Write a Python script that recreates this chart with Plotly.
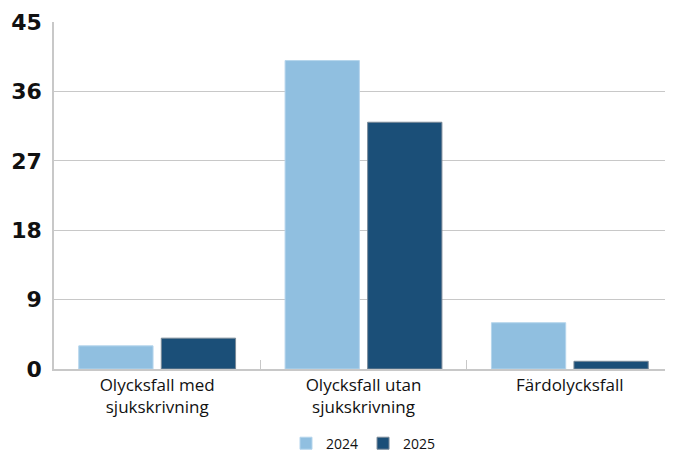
import plotly.graph_objects as go

categories = ["Olycksfall med<br>sjukskrivning", "Olycksfall utan<br>sjukskrivning", "Färdolycksfall"]
values_2024 = [3, 40, 6]
values_2025 = [4, 32, 1]
y_ticks = [0, 9, 18, 27, 36, 45]

fig = go.Figure()
fig.add_trace(go.Bar(name="2024", x=categories, y=values_2024,
                     marker=dict(color="#90BFE0", line=dict(color="#B5D5EC", width=1))))
fig.add_trace(go.Bar(name="2025", x=categories, y=values_2025,
                     marker=dict(color="#1B4F78", line=dict(color="#7A8A98", width=1))))

fig.update_layout(
    width=665, height=447,
    margin=dict(l=46, r=0, t=14, b=86, autoexpand=False),
    plot_bgcolor="white", paper_bgcolor="white",
    barmode="group", bargap=0.2, bargroupgap=0.1,
    font=dict(family="Open Sans, sans-serif", color="#111111"),
    showlegend=True,
    legend=dict(orientation="h", x=0.5, xanchor="center", y=-0.215, yanchor="middle",
                font=dict(size=14), itemwidth=30),
)
fig.update_yaxes(range=[0, 45], tickvals=y_ticks, showgrid=True, gridcolor="#C8C8C8", gridwidth=1,
                 showline=True, linecolor="#C8C8C8", linewidth=1.5, zeroline=False,
                 tickfont=dict(size=22, family="DejaVu Sans", weight="bold", color="#111111"),
                 ticks="", ticklabelstandoff=6, automargin=False, fixedrange=True)
fig.update_xaxes(showline=True, linecolor="#C8C8C8", linewidth=1.5,
                 ticks="inside", ticklen=9, tickcolor="#C8C8C8", tickwidth=1,
                 tickson="boundaries", tickfont=dict(size=17), automargin=False, fixedrange=True)

fig.write_html("out.html")
